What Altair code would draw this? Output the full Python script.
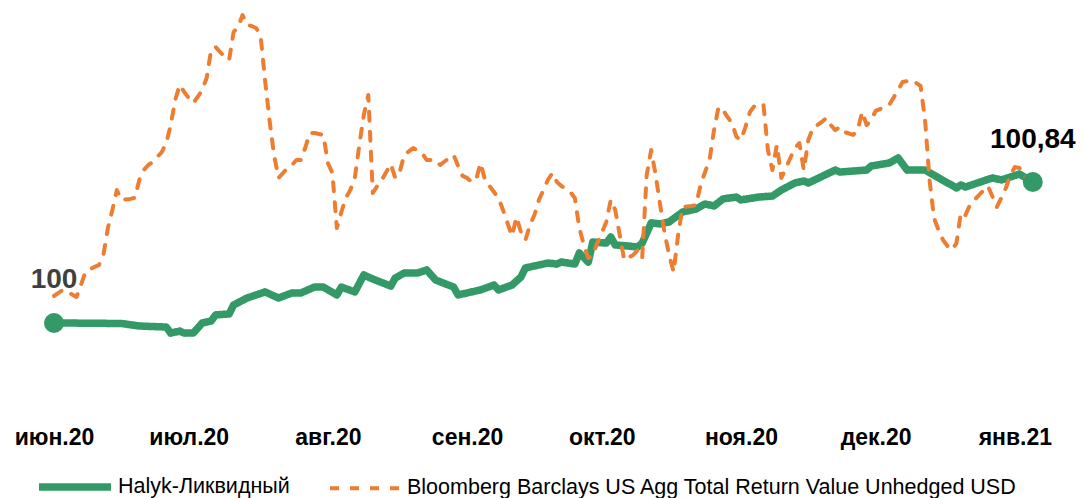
import altair as alt
import pandas as pd

series_names = ["Halyk-Ликвидный", "Bloomberg Barclays US Agg Total Return Value Unhedged USD"]

halyk_dates = [
    "2020-06-01", "2020-06-03", "2020-06-16", "2020-06-20", "2020-06-26", "2020-06-27", "2020-06-29", "2020-06-30",
    "2020-07-02", "2020-07-04", "2020-07-06", "2020-07-07", "2020-07-10", "2020-07-11", "2020-07-14", "2020-07-18",
    "2020-07-21", "2020-07-24", "2020-07-26", "2020-07-29", "2020-07-31", "2020-08-03", "2020-08-04", "2020-08-07",
    "2020-08-09", "2020-08-11", "2020-08-15", "2020-08-16", "2020-08-18", "2020-08-21", "2020-08-23", "2020-08-25",
    "2020-08-29", "2020-08-30", "2020-09-04", "2020-09-07", "2020-09-08", "2020-09-11", "2020-09-13", "2020-09-14",
    "2020-09-19", "2020-09-21", "2020-09-22", "2020-09-25", "2020-09-26", "2020-09-28", "2020-09-29", "2020-10-02",
    "2020-10-03", "2020-10-04", "2020-10-09", "2020-10-10", "2020-10-12", "2020-10-14", "2020-10-16", "2020-10-19",
    "2020-10-22", "2020-10-24", "2020-10-26", "2020-10-28", "2020-10-31", "2020-11-01", "2020-11-05", "2020-11-08",
    "2020-11-10", "2020-11-13", "2020-11-15", "2020-11-16", "2020-11-22", "2020-11-23", "2020-11-29", "2020-11-30",
    "2020-12-04", "2020-12-06", "2020-12-08", "2020-12-12", "2020-12-14", "2020-12-19", "2020-12-20", "2020-12-21",
    "2020-12-27", "2020-12-29", "2021-01-02", "2021-01-05",
]
halyk_values = [
    100.000, 100.000, 99.997, 99.982, 99.976, 99.940, 99.952, 99.940,
    99.940, 100.000, 100.012, 100.048, 100.054, 100.107, 100.149, 100.185,
    100.149, 100.179, 100.179, 100.214, 100.214, 100.167, 100.214, 100.185,
    100.286, 100.262, 100.220, 100.268, 100.298, 100.298, 100.316, 100.256,
    100.214, 100.167, 100.197, 100.226, 100.197, 100.226, 100.274, 100.328,
    100.357, 100.351, 100.363, 100.351, 100.417, 100.363, 100.482, 100.476,
    100.512, 100.465, 100.453, 100.476, 100.596, 100.590, 100.602, 100.661,
    100.679, 100.709, 100.697, 100.739, 100.750, 100.733, 100.750, 100.756,
    100.792, 100.834, 100.846, 100.834, 100.911, 100.899, 100.911, 100.935,
    100.953, 100.983, 100.911, 100.911, 100.881, 100.804, 100.822, 100.810,
    100.864, 100.852, 100.887, 100.840,
]

bb_dates = [
    "2020-06-01", "2020-06-02", "2020-06-03", "2020-06-04", "2020-06-06", "2020-06-07", "2020-06-08", "2020-06-10",
    "2020-06-11", "2020-06-12", "2020-06-13", "2020-06-14", "2020-06-15", "2020-06-16", "2020-06-18", "2020-06-19",
    "2020-06-20", "2020-06-21", "2020-06-22", "2020-06-23", "2020-06-24", "2020-06-25", "2020-06-26", "2020-06-27",
    "2020-06-28", "2020-06-29", "2020-06-30", "2020-07-01", "2020-07-02", "2020-07-03", "2020-07-04", "2020-07-05",
    "2020-07-06", "2020-07-07", "2020-07-08", "2020-07-09", "2020-07-10", "2020-07-11", "2020-07-12", "2020-07-13",
    "2020-07-14", "2020-07-15", "2020-07-16", "2020-07-17", "2020-07-18", "2020-07-19", "2020-07-20", "2020-07-21",
    "2020-07-22", "2020-07-23", "2020-07-24", "2020-07-25", "2020-07-26", "2020-07-27", "2020-07-28", "2020-07-29",
    "2020-07-30", "2020-07-31", "2020-08-01", "2020-08-02", "2020-08-03", "2020-08-04", "2020-08-05", "2020-08-06",
    "2020-08-07", "2020-08-08", "2020-08-09", "2020-08-10", "2020-08-11", "2020-08-12", "2020-08-13", "2020-08-14",
    "2020-08-15", "2020-08-16", "2020-08-17", "2020-08-18", "2020-08-20", "2020-08-22", "2020-08-23", "2020-08-25",
    "2020-08-26", "2020-08-28", "2020-08-29", "2020-08-30", "2020-08-31", "2020-09-01", "2020-09-02", "2020-09-03",
    "2020-09-04", "2020-09-05", "2020-09-06", "2020-09-07", "2020-09-08", "2020-09-09", "2020-09-10", "2020-09-11",
    "2020-09-12", "2020-09-13", "2020-09-14", "2020-09-15", "2020-09-16", "2020-09-17", "2020-09-18", "2020-09-19",
    "2020-09-20", "2020-09-21", "2020-09-22", "2020-09-24", "2020-09-25", "2020-09-26", "2020-09-27", "2020-09-28",
    "2020-09-29", "2020-09-30", "2020-10-01", "2020-10-02", "2020-10-03", "2020-10-04", "2020-10-05", "2020-10-06",
    "2020-10-08", "2020-10-09", "2020-10-10", "2020-10-11", "2020-10-12", "2020-10-13", "2020-10-14", "2020-10-15",
    "2020-10-16", "2020-10-17", "2020-10-18", "2020-10-19", "2020-10-21", "2020-10-22", "2020-10-23", "2020-10-24",
    "2020-10-25", "2020-10-26", "2020-10-27", "2020-10-28", "2020-10-29", "2020-10-30", "2020-10-31", "2020-11-01",
    "2020-11-02", "2020-11-03", "2020-11-04", "2020-11-05", "2020-11-06", "2020-11-07", "2020-11-08", "2020-11-09",
    "2020-11-10", "2020-11-11", "2020-11-12", "2020-11-13", "2020-11-14", "2020-11-15", "2020-11-16", "2020-11-17",
    "2020-11-19", "2020-11-20", "2020-11-21", "2020-11-22", "2020-11-23", "2020-11-24", "2020-11-26", "2020-11-27",
    "2020-11-28", "2020-11-29", "2020-11-30", "2020-12-01", "2020-12-03", "2020-12-04", "2020-12-06", "2020-12-07",
    "2020-12-09", "2020-12-11", "2020-12-12", "2020-12-13", "2020-12-14", "2020-12-15", "2020-12-16", "2020-12-17",
    "2020-12-18", "2020-12-19", "2020-12-20", "2020-12-21", "2020-12-22", "2020-12-24", "2020-12-26", "2020-12-28",
    "2020-12-29", "2020-12-30", "2020-12-31", "2021-01-01", "2021-01-02", "2021-01-03", "2021-01-04", "2021-01-05",
]
bb_values = [
    100.161, 100.179, 100.197, 100.185, 100.155, 100.226, 100.304, 100.334,
    100.345, 100.405, 100.566, 100.673, 100.792, 100.733, 100.739, 100.745,
    100.852, 100.911, 100.941, 100.959, 100.989, 101.018, 101.072, 101.179,
    101.328, 101.418, 101.376, 101.340, 101.310, 101.346, 101.388, 101.459,
    101.626, 101.644, 101.614, 101.584, 101.566, 101.733, 101.763, 101.834,
    101.775, 101.769, 101.757, 101.715, 101.447, 101.209, 101.001, 100.864,
    100.893, 100.923, 100.941, 100.971, 100.971, 101.048, 101.132, 101.132,
    101.126, 101.120, 100.953, 100.893, 100.566, 100.661, 100.745, 100.792,
    100.864, 101.060, 101.239, 101.358, 100.774, 100.816, 100.852, 100.899,
    100.947, 100.864, 100.899, 101.001, 101.042, 101.012, 100.971, 100.971,
    100.941, 100.983, 101.001, 100.935, 100.876, 100.864, 100.840, 100.852,
    100.953, 100.852, 100.816, 100.780, 100.745, 100.673, 100.596, 100.518,
    100.631, 100.542, 100.494, 100.584, 100.643, 100.733, 100.792, 100.852,
    100.893, 100.840, 100.816, 100.780, 100.745, 100.566, 100.465, 100.387,
    100.405, 100.476, 100.536, 100.602, 100.733, 100.673, 100.524, 100.375,
    100.405, 100.435, 100.387, 100.881, 101.030, 100.881, 100.703, 100.536,
    100.405, 100.304, 100.524, 100.691, 100.697, 100.703, 100.822, 100.899,
    100.971, 101.149, 101.286, 101.269, 101.227, 101.191, 101.108, 101.090,
    101.167, 101.257, 101.292, 101.298, 101.304, 101.030, 100.911, 101.060,
    100.864, 100.923, 100.983, 101.042, 101.072, 100.911, 101.090, 101.161,
    101.197, 101.221, 101.179, 101.149, 101.167, 101.138, 101.120, 101.149,
    101.257, 101.179, 101.209, 101.263, 101.286, 101.298, 101.388, 101.435,
    101.447, 101.412, 101.209, 100.852, 100.625, 100.554, 100.494, 100.459,
    100.435, 100.476, 100.661, 100.643, 100.703, 100.762, 100.816, 100.691,
    100.745, 100.804, 100.881, 100.929, 100.923, 100.899, 100.822, 100.822,
]

tick_dates = ["2020-06-01", "2020-07-01", "2020-08-01", "2020-09-01",
              "2020-10-01", "2020-11-01", "2020-12-01", "2021-01-01"]
tick_labels = ["июн.20", "июл.20", "авг.20", "сен.20", "окт.20", "ноя.20", "дек.20", "янв.21"]
end_labels = ["100", "100,84"]

GREEN = "#339966"
ORANGE = "#ED7D31"

start = pd.Timestamp("2020-06-01")


def to_day(s):
    return int((pd.Timestamp(s) - start).days)


rows = []
for d, v in zip(halyk_dates, halyk_values):
    rows.append({"series": series_names[0], "day": to_day(d), "value": v})
for d, v in zip(bb_dates, bb_values):
    rows.append({"series": series_names[1], "day": to_day(d), "value": v})
df = pd.DataFrame(rows)

ends = pd.DataFrame({
    "day": [to_day(halyk_dates[0]), to_day(halyk_dates[-1])],
    "value": [halyk_values[0], halyk_values[-1]],
    "label": end_labels,
})

tick_days = [to_day(d) for d in tick_dates]
label_expr = "[" + ",".join("'" + t + "'" for t in tick_labels) + "][indexof([" + \
    ",".join(str(t) for t in tick_days) + "], datum.value)]"

x_scale = alt.Scale(domain=[-10.245, 227.62], nice=False, zero=False)
y_scale = alt.Scale(domain=[99.5414, 101.8761], nice=False, zero=False)

x_enc = alt.X(
    "day:Q",
    scale=x_scale,
    axis=alt.Axis(
        values=tick_days, labelExpr=label_expr, title=None, grid=False, domain=False,
        ticks=False, labelFont="Liberation Sans", labelFontWeight="bold", labelFontSize=23,
        labelColor="#000000", labelBaseline="alphabetic", labelPadding=44,
        labelFlush=False, labelOverlap=False,
    ),
)
y_enc = alt.Y("value:Q", scale=y_scale, axis=None)

legend = alt.Legend(
    title=None, orient="none", legendX=27, legendY=439, direction="horizontal",
    labelFont="Liberation Sans", labelFontSize=21.5, labelColor="#000000", labelLimit=800,
    symbolType="stroke", symbolSize=5184, symbolStrokeWidth=6, labelOffset=3, columnPadding=32,
)

lines = alt.Chart(df).mark_line(strokeCap="round", strokeJoin="round").encode(
    x=x_enc,
    y=y_enc,
    color=alt.Color("series:N", scale=alt.Scale(domain=series_names, range=[GREEN, ORANGE]),
                    legend=legend, sort=series_names),
    strokeDash=alt.StrokeDash("series:N", scale=alt.Scale(domain=series_names, range=[[1, 0], [9, 11]]),
                              legend=None),
    strokeWidth=alt.StrokeWidth("series:N", scale=alt.Scale(domain=series_names, range=[7.5, 4]),
                                legend=None),
    order="day:Q",
)

dots = alt.Chart(ends).mark_circle(size=400, opacity=1, color=GREEN).encode(
    x=alt.X("day:Q"), y=alt.Y("value:Q"))

start_label = alt.Chart(ends).transform_filter(alt.datum.label == end_labels[0]).mark_text(
    font="Liberation Sans", fontWeight="bold", fontSize=28, color="#404040", dy=-43
).encode(x="day:Q", y="value:Q", text="label:N")

end_label = alt.Chart(ends).transform_filter(alt.datum.label == end_labels[1]).mark_text(
    font="Liberation Sans", fontWeight="bold", fontSize=28, color="#000000", dy=-42
).encode(x="day:Q", y="value:Q", text="label:N")

chart = alt.layer(lines, dots, start_label, end_label).properties(
    width=1068, height=392,
    autosize=alt.AutoSizeParams(type="none"),
    padding={"left": 0, "top": 0, "right": 0, "bottom": 98},
).configure_view(stroke=None)

chart.save("out.html", embed_options={"renderer": "svg", "actions": False})
